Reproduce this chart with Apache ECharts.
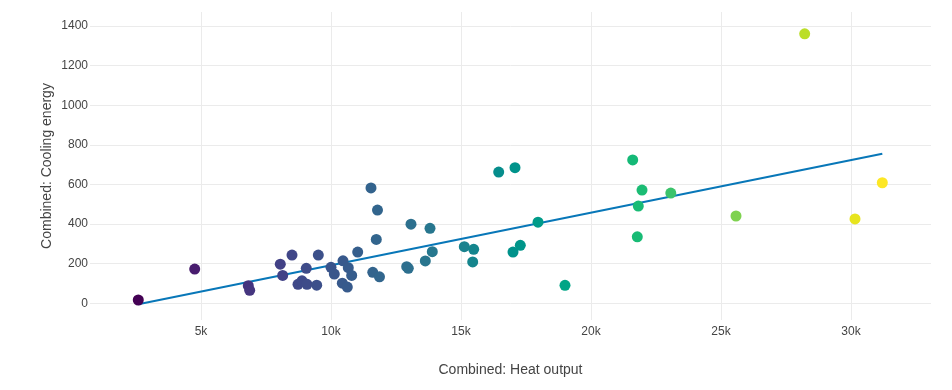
<!DOCTYPE html>
<html>
<head>
<meta charset="utf-8">
<script src="https://cdn.jsdelivr.net/npm/echarts@6/dist/echarts.min.js"></script>
<style>
html,body{margin:0;padding:0;background:#fff;}
#chart{width:952px;height:390px;}
</style>
</head>
<body>
<div id="chart"></div>
<script>
// Combined: Heat output (x) and Combined: Cooling energy (y)
const heatOutput = [2588, 4758, 6819, 6873, 8050, 8142, 8500, 8731, 8885, 9050,
  9077, 9450, 9512, 10000, 10127, 10462, 10435, 10627, 10665, 10796,
  11027, 11538, 11788, 11742, 11607, 11865, 12912, 12973, 13077, 13627,
  13808, 13896, 15127, 15488, 15450, 16450, 17077, 17000, 17281, 17962,
  19000, 21604, 21962, 21819, 21781, 23069, 25577, 28219, 30154, 31204];
const coolingEnergy = [17, 173, 89, 66, 198, 141, 244, 96, 114, 177,
  96, 92, 244, 182, 148, 215, 102, 82, 180, 141,
  259, 583, 471, 323, 157, 134, 185, 177, 400, 214,
  379, 261, 286, 273, 209, 663, 685, 259, 293, 410,
  91, 724, 572, 491, 336, 557, 441, 1361, 426, 609];
// Trend line endpoints
const trendX = [2588, 31204];
const trendY = [-5, 755];
const xTicks = [5000, 10000, 15000, 20000, 25000, 30000];
const yTicks = [0, 200, 400, 600, 800, 1000, 1200, 1400];

const points = heatOutput.map((x, i) => [x, coolingEnergy[i]]);
const trend = trendX.map((x, i) => [x, trendY[i]]);

const chart = echarts.init(document.getElementById('chart'), null, {renderer: 'canvas'});
const font = '"Liberation Sans", Arial, sans-serif';
chart.setOption({
  animation: false,
  backgroundColor: '#fff',
  textStyle: {fontFamily: font},
  grid: {left: 90, right: 21, top: 12, bottom: 70},
  visualMap: {
    show: false,
    type: 'continuous',
    seriesIndex: 0,
    dimension: 0,
    min: 2588,
    max: 31204,
    inRange: {color: ['#440154','#48186a','#472d7b','#424086','#3b528b','#33638d','#2c728e','#1a828e','#00918b','#00a287','#00b17f','#21be72','#5ac863','#84d44b','#addc30','#d8e219','#fde725']}
  },
  xAxis: {
    type: 'value',
    min: 731,
    max: 33077,
    name: 'Combined: Heat output',
    nameLocation: 'middle',
    nameGap: 43,
    nameMoveOverlap: false,
    nameTextStyle: {fontSize: 14, color: '#444', fontFamily: font},
    axisLine: {show: false},
    axisTick: {show: false, customValues: xTicks},
    axisLabel: {customValues: xTicks, fontSize: 12, color: '#444', margin: 6, fontFamily: font,
      formatter: v => (v / 1000) + 'k'},
    splitLine: {show: true, lineStyle: {color: '#ebebeb', width: 1}}
  },
  yAxis: {
    type: 'value',
    min: -84,
    max: 1471,
    name: 'Combined: Cooling energy',
    nameLocation: 'middle',
    nameGap: 36,
    nameMoveOverlap: false,
    nameTextStyle: {fontSize: 14, color: '#444', fontFamily: font},
    axisLine: {show: false},
    axisTick: {show: false, customValues: yTicks},
    axisLabel: {customValues: yTicks, fontSize: 12, color: '#444', margin: 2, fontFamily: font,
      padding: [3, 0, 0, 0], formatter: v => String(v)},
    splitLine: {show: true, lineStyle: {color: '#ebebeb', width: 1}}
  },
  series: [
    {
      type: 'scatter',
      data: points,
      symbolSize: 11,
      itemStyle: {opacity: 1}
    },
    {
      type: 'line',
      data: trend,
      symbol: 'none',
      lineStyle: {color: '#0877b8', width: 2},
      z: 1
    }
  ]
});
</script>
</body>
</html>
